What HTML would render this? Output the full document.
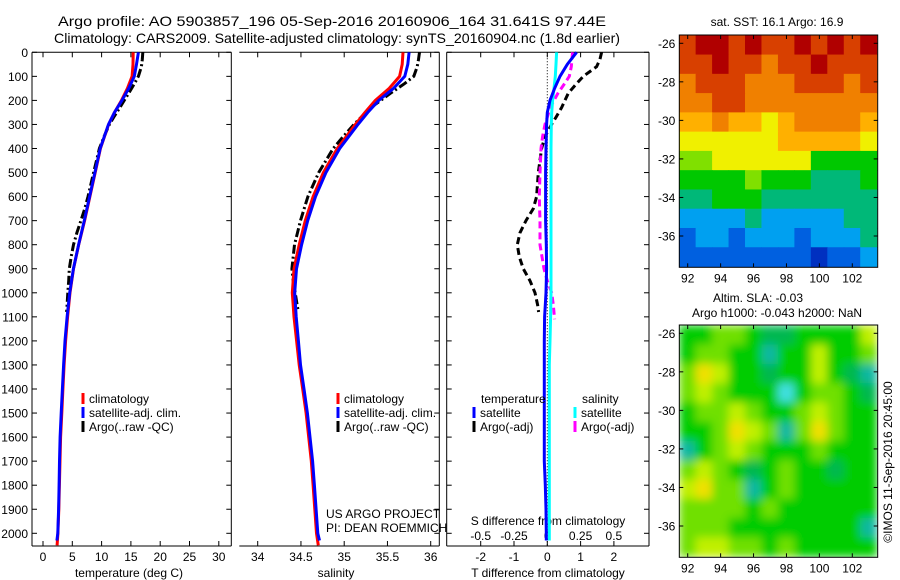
<!DOCTYPE html>
<html><head><meta charset="utf-8"><style>
html,body{margin:0;padding:0;background:#fff;}
svg{display:block;font-family:"Liberation Sans",sans-serif;}
text{fill:#000;}
</style></head><body>
<svg id="fig" width="900" height="580" viewBox="0 0 900 580" xmlns="http://www.w3.org/2000/svg">
<rect width="900" height="580" fill="#fff"/>
<text x="332" y="26" font-size="14" text-anchor="middle" textLength="548" lengthAdjust="spacingAndGlyphs">Argo profile: AO 5903857_196 05-Sep-2016 20160906_164 31.641S 97.44E</text>
<text x="337" y="43" font-size="14" text-anchor="middle" textLength="566" lengthAdjust="spacingAndGlyphs">Climatology: CARS2009. Satellite-adjusted climatology: synTS_20160904.nc (1.8d earlier)</text>
<g id="p1"></g>
<g id="p2"></g>
<g id="p3"></g>
<g id="m1"></g>
<g id="m2"></g>
<text x="0" y="0" font-size="12" text-anchor="middle" transform="translate(892,462) rotate(-90)">©IMOS 11-Sep-2016 20:45:00</text>
</svg>
<script>
// ---------- data ----------
const depths = [0,50,100,150,200,250,300,400,500,600,700,800,900,1000,1100,1200,1300,1400,1500,1600,1700,1800,1900,2000,2050];
const climT = [15.4,15.35,15.2,14.4,13.4,12.2,11.2,9.8,8.9,8.0,7.1,6.1,5.2,4.6,4.2,3.85,3.6,3.4,3.2,3.0,2.9,2.8,2.7,2.55,2.4];
const satDT = [0.88,0.6,0.38,0.22,0.08,0.0,-0.02,-0.04,-0.05,-0.05,-0.05,-0.03,-0.02,-0.04,-0.08,-0.09,-0.09,-0.09,-0.09,-0.09,-0.09,-0.06,-0.04,-0.03,-0.03];
const climS = [35.68,35.67,35.64,35.52,35.36,35.24,35.13,34.92,34.76,34.64,34.55,34.48,34.42,34.40,34.42,34.45,34.48,34.52,34.56,34.59,34.62,34.64,34.66,34.68,34.70];
const satDS = [0.07,0.065,0.06,0.05,0.04,0.033,0.03,0.028,0.028,0.028,0.028,0.028,0.028,0.028,0.025,0.02,0.015,0.015,0.015,0.015,0.015,0.015,0.015,0.015,0.015];
const argoDepths = [0,30,60,100,130,170,230,270,300,350,400,500,600,650,700,750,800,850,900,950,1000,1050,1080];
const argoDT = [1.63,1.58,1.48,1.08,0.88,0.63,0.43,0.26,0.13,-0.07,-0.17,-0.27,-0.32,-0.42,-0.64,-0.82,-0.9,-0.84,-0.72,-0.52,-0.37,-0.29,-0.26];
const argoDS = [0.19,0.185,0.18,0.165,0.13,0.08,0.02,0.0,-0.017,-0.035,-0.047,-0.055,-0.06,-0.058,-0.055,-0.055,-0.055,-0.04,-0.025,0.0,0.033,0.045,0.055];
const depthTicks = [0,100,200,300,400,500,600,700,800,900,1000,1100,1200,1300,1400,1500,1600,1700,1800,1900,2000];
const tempTicks = [0,5,10,15,20,25,30];
const salTicks = [34,34.5,35,35.5,36];
const salTickLabels = ["34","34.5","35","35.5","36"];
const dTTicks = [-2,-1,0,1,2];
const dSTicks = [-0.5,-0.25,0,0.25,0.5];
const dSTickLabels = ["-0.5","-0.25","0","0.25","0.5"];
const mapLons = [92,94,96,98,100,102];
const mapLats = [-26,-28,-30,-32,-34,-36];
const sstGrid = [
[9,10,10,9,10,9,9,10,9,10,9,10],
[9,9,10,9,9,8,9,9,10,9,9,9],
[8,9,9,9,8,8,8,9,9,9,8,9],
[8,8,9,9,8,8,8,8,8,8,8,8],
[7,7,8,7,7,6,7,8,8,8,8,7],
[6,6,6,6,6,6,7,7,7,7,7,6],
[5,5,6,6,6,6,6,6,4,4,4,4],
[4,4,4,4,5,4,4,4,3,3,3,4],
[3,3,4,4,4,3,3,3,3,3,3,3],
[2,2,2,2,3,2,2,2,2,2,3,3],
[1,2,2,1,2,2,2,1,2,2,2,3],
[1,1,1,1,1,1,1,1,0,1,1,2]];
const slaGrid = [
[0,0,1,1,0,-1,-1,0,0,0,0,2],
[0,1,1,0,0,-2,0,0,2,0,0,1],
[1,3,2,0,0,-1,0,0,2,0,-1,-2],
[1,2,1,0,0,0,-3,0,1,1,0,-1],
[0,1,1,2,1,0,0,1,2,1,0,0],
[0,0,1,3,2,1,-2,1,3,1,0,0],
[-2,0,1,2,1,0,0,0,1,0,0,0],
[1,2,1,0,-1,0,1,0,0,-1,0,0],
[2,3,1,1,-2,0,1,0,0,0,0,0],
[1,1,1,1,0,1,0,0,0,0,0,0],
[1,1,1,0,0,0,0,0,0,0,0,-2],
[1,2,2,1,1,0,1,0,0,0,0,0]];
// ---------- scales ----------
const yD = d => 52.3 + d*0.2405;
const xT = v => 43 + v*5.86;
const xS = v => 257.7 + (v-34)*86.5;
const xDT = v => 547.3 + v*33.3;
const xDS = v => 547.3 + v*133.2;
const lonX = l => 687.7 + (l-92)*16.46;
const latY = la => 43.3 + (-26-la)*19.27;
const NS = "http://www.w3.org/2000/svg";
function mk(parent, tag, attrs, txt){
  const e = document.createElementNS(NS, tag);
  for (const k in attrs) e.setAttribute(k, attrs[k]);
  if (txt !== undefined) e.textContent = txt;
  parent.appendChild(e); return e;
}
function interp(xs, ys, x){
  for (let i=0;i<xs.length-1;i++){ if (x>=xs[i] && x<=xs[i+1]){ const t=(x-xs[i])/(xs[i+1]-xs[i]); return ys[i]+t*(ys[i+1]-ys[i]); } }
  return ys[ys.length-1];
}
function line(g, name, xs, ds, color, dash){
  const pts = xs.map((v,i)=>v.toFixed(1)+","+yD(ds[i]).toFixed(1)).join(" ");
  const p = mk(g,"polyline",{points:pts,fill:"none",stroke:color,"stroke-width":3});
  if (dash) p.setAttribute("stroke-dasharray", dash);
  
  
}
function frame(g, x0, x1, left){
  const top = 52.3, bot = 546;
  mk(g,"line",{x1:x0,y1:top,x2:x1,y2:top,stroke:"#000"});
  mk(g,"line",{x1:x0,y1:bot,x2:x1,y2:bot,stroke:"#000"});
  mk(g,"line",{x1:x1,y1:top,x2:x1,y2:bot,stroke:"#000"});
  if (left) mk(g,"line",{x1:x0,y1:top,x2:x0,y2:bot,stroke:"#000"});
  depthTicks.forEach(d=>{
    if (left) mk(g,"line",{x1:x0,y1:yD(d),x2:x0+5,y2:yD(d),stroke:"#000"});
    mk(g,"line",{x1:x1,y1:yD(d),x2:x1-5,y2:yD(d),stroke:"#000"});
  });
}
function xticks(g, vals, sc, labels, ly){
  vals.forEach((v,i)=>{
    const x = sc(v);
    mk(g,"line",{x1:x,y1:546,x2:x,y2:541,stroke:"#000"});
    mk(g,"line",{x1:x,y1:52.3,x2:x,y2:57.3,stroke:"#000"});
    const t = mk(g,"text",{x:x,y:ly,"font-size":12,"text-anchor":"middle"}, labels[i]);
    
    
  });
}
function legendItem(g, x, y, color, label){
  mk(g,"rect",{x:x-1.5,y:y-10,width:3,height:11,fill:color});
  const t = mk(g,"text",{x:x+6,y:y,"font-size":12}, label);
  
  
}
// ---------- panel 1 ----------
const p1 = document.getElementById("p1");
frame(p1, 32, 231.3, true);
depthTicks.forEach(d=>{
  const t = mk(p1,"text",{x:28,y:yD(d)+4.5,"font-size":12,"text-anchor":"end"}, String(d));
  
  
});
xticks(p1, tempTicks, xT, tempTicks.map(String), 561);
const xl1 = mk(p1,"text",{x:129,y:577,"font-size":12,"text-anchor":"middle"},"temperature (deg C)");


const argoT = argoDepths.map((d,i)=>interp(depths,climT,d)+argoDT[i]);
line(p1,"argo-temperature-line",argoT.map(xT),argoDepths,"#000","9,3,2,3");
line(p1,"climatology-temperature-line",climT.map(xT),depths,"#ff0000");
line(p1,"satellite-temperature-line",climT.map((v,i)=>xT(v+satDT[i])),depths.slice(0,-1).concat([2030]),"#0000ff");
legendItem(p1,83,403,"#ff0000","climatology");
legendItem(p1,83,417,"#0000ff","satellite-adj. clim.");
legendItem(p1,83,431,"#000","Argo(..raw -QC)");
// ---------- panel 2 ----------
const p2 = document.getElementById("p2");
frame(p2, 239.3, 439.3, false);
xticks(p2, salTicks, xS, salTickLabels, 561);
const xl2 = mk(p2,"text",{x:336,y:577,"font-size":12,"text-anchor":"middle"},"salinity");


const argoS = argoDepths.map((d,i)=>interp(depths,climS,d)+argoDS[i]);
line(p2,"argo-salinity-line",argoS.map(xS),argoDepths,"#000","9,3,2,3");
line(p2,"climatology-salinity-line",climS.map(xS),depths,"#ff0000");
line(p2,"satellite-salinity-line",climS.map((v,i)=>xS(v+satDS[i])),depths.slice(0,-1).concat([2030]),"#0000ff");
legendItem(p2,338,403,"#ff0000","climatology");
legendItem(p2,338,417,"#0000ff","satellite-adj. clim.");
legendItem(p2,338,431,"#000","Argo(..raw -QC)");
const c1 = mk(p2,"text",{x:326,y:518,"font-size":12},"US ARGO PROJECT");


const c2 = mk(p2,"text",{x:326,y:532,"font-size":12},"PI: DEAN ROEMMICH");


// ---------- panel 3 ----------
const p3 = document.getElementById("p3");
frame(p3, 446.7, 649, true);
mk(p3,"line",{x1:xDT(0),y1:52.3,x2:xDT(0),y2:546,stroke:"#000","stroke-dasharray":"1,2"});
dTTicks.forEach((v,i)=>{
  const x = xDT(v);
  mk(p3,"line",{x1:x,y1:546,x2:x,y2:541,stroke:"#000"});
  mk(p3,"line",{x1:x,y1:52.3,x2:x,y2:57.3,stroke:"#000"});
  const t = mk(p3,"text",{x:x,y:561,"font-size":12,"text-anchor":"middle"}, String(v));
  
  
});
dSTicks.forEach((v,i)=>{
  const t = mk(p3,"text",{x:xDS(v),y:540,"font-size":12,"text-anchor":"middle"}, dSTickLabels[i]);
  
  
});
const sl = mk(p3,"text",{x:548,y:525,"font-size":12,"text-anchor":"middle"},"S difference from climatology");


const tl = mk(p3,"text",{x:548,y:577,"font-size":12,"text-anchor":"middle"},"T difference from climatology");


line(p3,"argo-temp-diff-line",argoDT.map(xDT),argoDepths,"#000","7,4");
line(p3,"argo-sal-diff-line",argoDS.map(xDS),argoDepths.slice(0,-1).concat([1110]),"#ff00ff","7,4");
line(p3,"satellite-sal-diff-line",satDS.map(xDS),depths.slice(0,-1).concat([2030]),"#00ffff");
line(p3,"satellite-temp-diff-line",satDT.map(xDT),depths.slice(0,-1).concat([2030]),"#0000ff");
const lt = mk(p3,"text",{x:481,y:403,"font-size":12},"temperature");


const ls = mk(p3,"text",{x:582,y:403,"font-size":12},"salinity");


legendItem(p3,474,417,"#0000ff","satellite");
legendItem(p3,474,431,"#000","Argo(-adj)");
legendItem(p3,575,417,"#00ffff","satellite");
legendItem(p3,575,431,"#ff00ff","Argo(-adj)");
// ---------- maps ----------
const sstColors = ["#0030c0","#0060e0","#00a0f0","#00b878","#00c800","#80e000","#f0f000","#ffb000","#f08000","#d84000","#b00000"];
function slaColor(v){ return {"-3":"#40e0e0","-2":"#10b8a0","-1":"#00b850","0":"#00cc00","1":"#70e000","2":"#c0f000","3":"#f0e000"}[String(v)]; }
function drawMap(g, off, grid, colorFn, blur, name, t1, t2, t1x){
  const L = 679.3, R = 877.7, T = 35+off, B = 267.3+off;
  const defs = mk(g,"defs",{});
  const cp = mk(defs,"clipPath",{id:name+"-clip"});
  mk(cp,"rect",{x:L,y:T,width:R-L,height:B-T});
  if (blur){
    const f = mk(defs,"filter",{id:name+"-blur",x:L,y:T,width:R-L,height:B-T,filterUnits:"userSpaceOnUse"});
    mk(f,"feGaussianBlur",{stdDeviation:4.5,edgeMode:"duplicate"});
  }
  const cells = mk(g,"g",{"clip-path":"url(#"+name+"-clip)"});
  const inner = mk(cells,"g",blur?{filter:"url(#"+name+"-blur)"}:{});
  grid.forEach((row,r)=>row.forEach((v,c)=>{
    const lon0 = 91.5 + c, la0 = -25.6 - r;
    const x0 = lonX(lon0), y0 = latY(la0)+off;
    const rc = mk(inner,"rect",{x:x0-0.3,y:y0-0.3,width:16.46+0.6,height:19.27+0.6,fill:colorFn(v)});
    
    
  }));
  mk(g,"rect",{x:L,y:T,width:R-L,height:B-T,fill:"none",stroke:"#000"});
  mapLons.forEach(l=>{
    const x = lonX(l);
    mk(g,"line",{x1:x,y1:B,x2:x,y2:B-4,stroke:"#000"});
    mk(g,"line",{x1:x,y1:T,x2:x,y2:T+4,stroke:"#000"});
    const t = mk(g,"text",{x:x,y:B+15,"font-size":12,"text-anchor":"middle"},String(l));
    
    
  });
  mapLats.forEach(la=>{
    const y = latY(la)+off;
    mk(g,"line",{x1:L,y1:y,x2:L+4,y2:y,stroke:"#000"});
    mk(g,"line",{x1:R,y1:y,x2:R-4,y2:y,stroke:"#000"});
    const t = mk(g,"text",{x:L-4,y:y+4.5,"font-size":12,"text-anchor":"end"},String(la));
    
    
  });
  const a = mk(g,"text",{x:t1x,y:off?off+12:26,"font-size":12,"text-anchor":"middle"},t1);
  
  
  if (t2){
    const b = mk(g,"text",{x:777,y:off+27,"font-size":12,"text-anchor":"middle"},t2);
    
    
  }
}
drawMap(document.getElementById("m1"),0,sstGrid,v=>sstColors[v],false,"sst","sat. SST: 16.1  Argo: 16.9",null,777);
drawMap(document.getElementById("m2"),290,slaGrid,slaColor,true,"sla","Altim. SLA: -0.03","Argo h1000: -0.043 h2000: NaN",758);
</script>
</body></html>
